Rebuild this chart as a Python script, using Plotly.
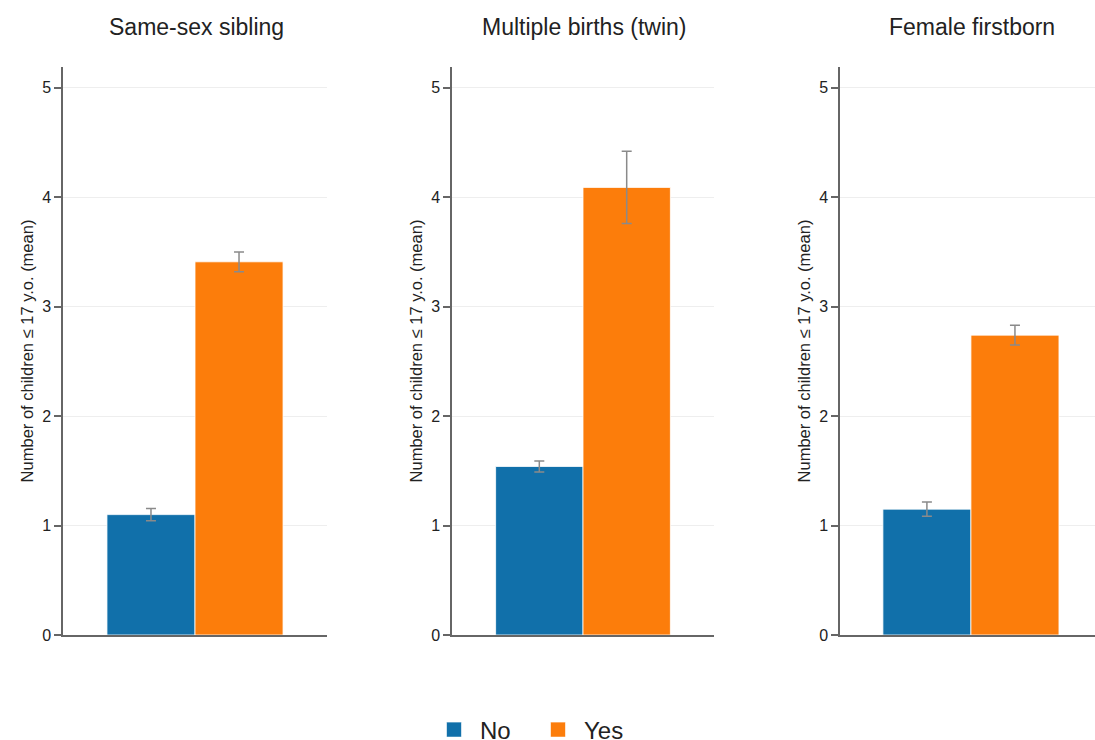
import plotly.graph_objects as go

# Instruments and the mean number of children (<= 17 y.o.) with 95% CI half-widths
panels = ["Same-sex sibling", "Multiple births (twin)", "Female firstborn"]
groups = ["No", "Yes"]
no_mean = [1.10, 1.54, 1.15]
no_err = [0.055, 0.05, 0.065]
yes_mean = [3.41, 4.09, 2.74]
yes_err = [0.09, 0.33, 0.09]
y_ticks = [0, 1, 2, 3, 4, 5]

W, H = 1095, 740
TOP, BOTTOM = 67, 105
COLORS = {"No": "#1170aa", "Yes": "#fc7d0b"}
FONT = "Liberation Sans, Arial, sans-serif"
TXT = "#222222"
AXC = "#666666"

# plot areas in pixels (left, right) and x ranges per panel
px_domains = [(63, 327), (452, 714), (840, 1095)]
x_ranges = [[-0.5, 0.5], [-0.5, 0.5], [-0.496, 0.47]]
centers_px = [196, 584, 972]
plot_h = H - TOP - BOTTOM

fig = go.Figure()
for i, name in enumerate(panels):
    ax = "" if i == 0 else str(i + 1)
    for grp, means, errs in (("No", no_mean, no_err), ("Yes", yes_mean, yes_err)):
        fig.add_trace(go.Bar(
            x=[0], y=[means[i]], name=grp, legendgroup=grp, showlegend=False,
            marker=dict(color=COLORS[grp], line=dict(color="rgba(255,255,255,0.8)", width=1)),
            error_y=dict(type="data", array=[errs[i]], color="#8a8a8a", thickness=1.5, width=5),
            xaxis="x" + ax, yaxis="y" + ax, offsetgroup=grp,
        ))

    l, r = px_domains[i]
    fig.layout["xaxis" + ax] = dict(
        domain=[l / W, r / W], range=x_ranges[i], showticklabels=False, ticks="",
        showgrid=False, zeroline=False, showline=True, linecolor=AXC, linewidth=1.5,
        anchor="y" + ax,
    )
    fig.layout["yaxis" + ax] = dict(
        domain=[0, 1], range=[0, 5.19], tickvals=y_ticks, ticks="outside", ticklen=7,
        tickcolor=AXC, tickwidth=1.5, showline=True, linecolor=AXC, linewidth=1.5,
        showgrid=True, gridcolor="#eeeeee", gridwidth=1, zeroline=False,
        tickfont=dict(size=16, color=TXT, family=FONT),
        title=dict(text="Number of children ≤ 17 y.o. (mean)", standoff=4,
                   font=dict(size=16.5, color=TXT, family=FONT)),
        anchor="x" + ax,
    )
    fig.add_annotation(
        x=centers_px[i] / W, y=(H - BOTTOM - 27) / plot_h, xref="paper", yref="paper",
        text=name, showarrow=False, xanchor="center", yanchor="middle",
        font=dict(size=23, color=TXT, family=FONT),
    )

# legend entries as square swatches
for grp in groups:
    fig.add_trace(go.Scatter(
        x=[None], y=[None], mode="markers", name=grp, legendgroup=grp,
        marker=dict(symbol="square", size=15, color=COLORS[grp],
                    line=dict(color="rgba(255,255,255,0.6)", width=1)),
        hoverinfo="skip",
    ))

fig.update_layout(
    width=W, height=H,
    margin=dict(l=0, r=0, t=TOP, b=BOTTOM, autoexpand=False),
    paper_bgcolor="white", plot_bgcolor="white",
    barmode="group", bargap=0.333, bargroupgap=0.0,
    font=dict(family=FONT, color=TXT),
    legend=dict(orientation="h", x=(456 - 28) / W, xanchor="left", y=10 / H, yref="container",
                yanchor="middle", font=dict(size=24, color=TXT, family=FONT),
                entrywidth=47, entrywidthmode="pixels", itemsizing="trace", itemwidth=42,
                traceorder="normal"),
)

fig.write_html("out.html")
